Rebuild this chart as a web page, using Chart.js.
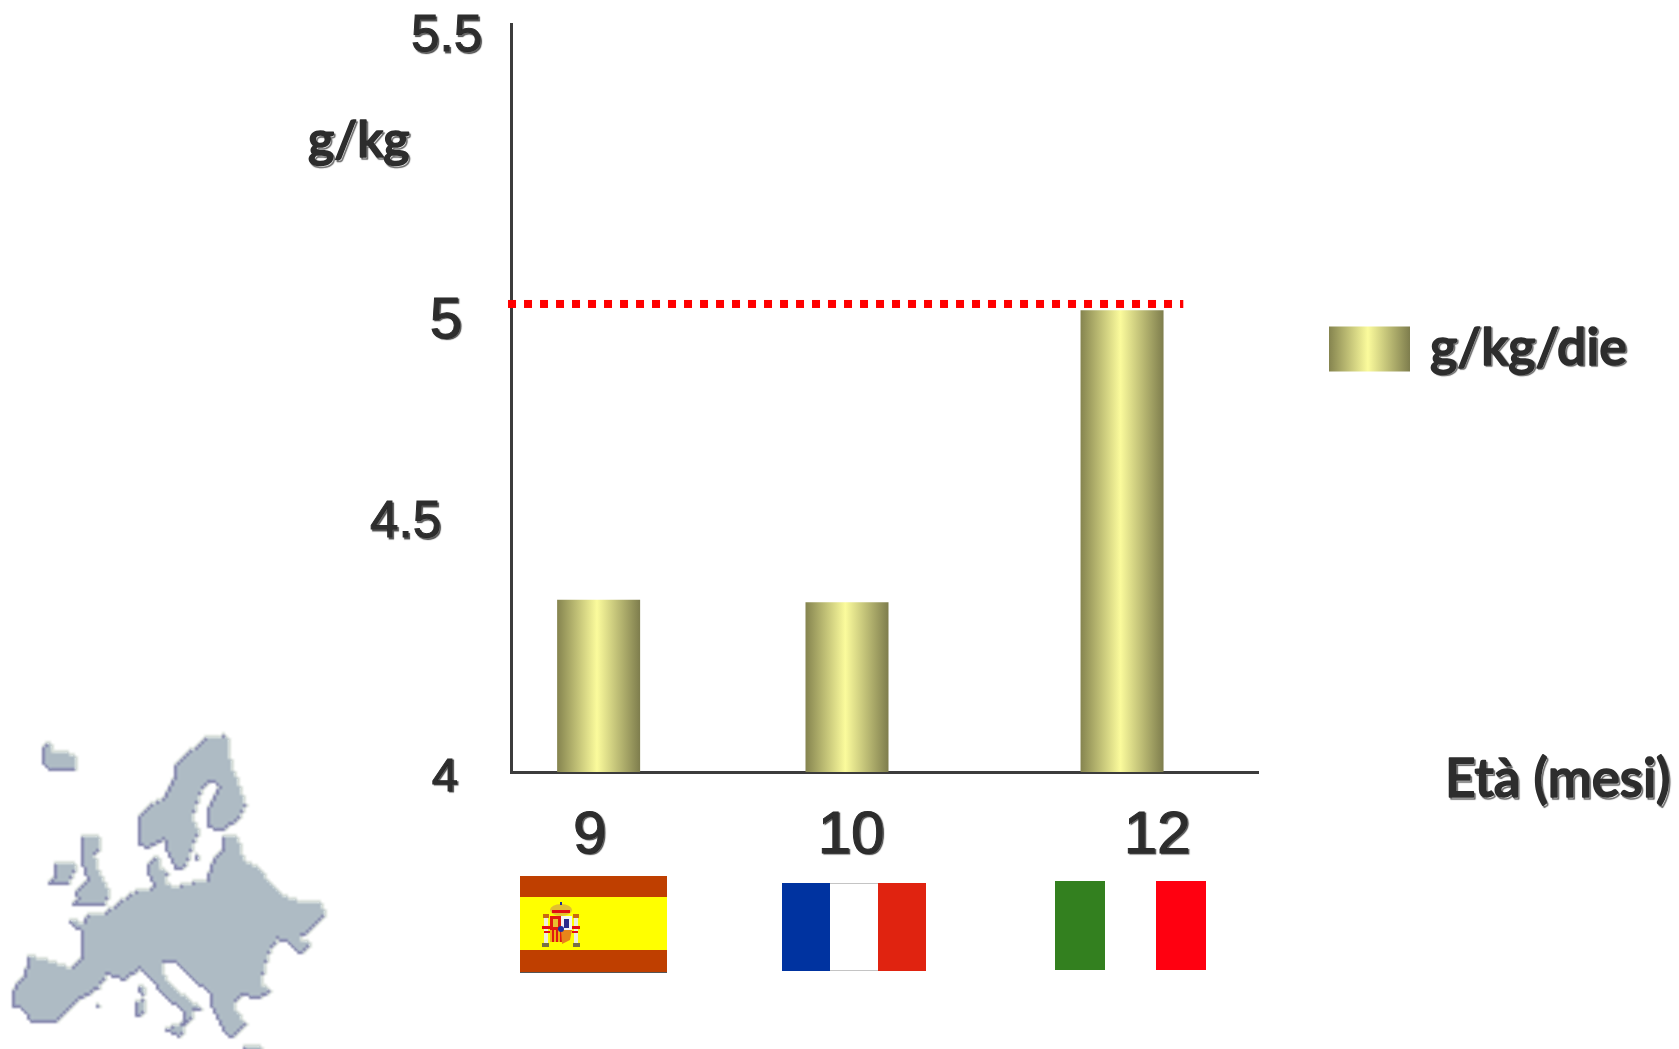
<!DOCTYPE html>
<html>
<head>
<meta charset="utf-8">
<title>g/kg/die per età</title>
<style>
  html, body { margin: 0; padding: 0; background: #fff; }
  canvas { display: block; }
</style>
<script src="https://cdn.jsdelivr.net/npm/chart.js@4/dist/chart.umd.js"></script>
</head>
<body>
<canvas id="chart" width="1679" height="1049"></canvas>
<script>
// Chart values
const ageMonths = ['9', '10', '12'];
const intakeValues = [4.33, 4.325, 4.985];
const referenceLevel = 5;
const seriesName = 'g/kg/die';
const yTickValues = [4, 4.5, 5, 5.5];

// Axis layout: the drawn axes are not evenly divided, so each scale has its own stops
const yAxisStops = [0, 0.349, 0.6257, 1];
const xAxisStops = [0.1173, 0.4498, 0.818];
const yTickShift = [[-45, 6], [-62, 12], [-41, 18], [-21, 13]];
const yTickSizes = [47, 51, 58, 51];
const xTickShift = [-9, 4, 35];

const COMIC_FONT = '"Comic Sans MS", Lato, "DejaVu Sans", sans-serif';
const NUM_FONT = '"Liberation Sans", Arial, sans-serif';
const INK = '#2d2d2d';

function setTextShadow(ctx) {
  ctx.shadowColor = 'rgba(30,30,30,0.7)';
  ctx.shadowOffsetX = 1.5;
  ctx.shadowOffsetY = 1.5;
  ctx.shadowBlur = 1;
}

function drawFreeTitle(scale, x, y) {
  const title = scale.options.title;
  const ctx = scale.ctx;
  ctx.save();
  setTextShadow(ctx);
  ctx.font = `${title.font.weight} ${title.font.size}px ${title.font.family}`;
  ctx.fillStyle = title.color;
  ctx.strokeStyle = title.color;
  ctx.lineWidth = 1.6;
  ctx.lineJoin = 'round';
  ctx.textBaseline = 'middle';
  ctx.textAlign = 'left';
  ctx.strokeText(title.text, x, y);
  ctx.shadowColor = 'transparent';
  ctx.fillText(title.text, x, y);
  ctx.restore();
}

function shiftLabelItems(items, shifts) {
  items.forEach((item, i) => {
    const s = shifts[i];
    const dx = Array.isArray(s) ? s[0] : s;
    const dy = Array.isArray(s) ? s[1] : 0;
    item.options.translation = [item.options.translation[0] + dx, item.options.translation[1] + dy];
  });
  return items;
}

const LinearBase = Chart.registry.getScale('linear');
const CategoryBase = Chart.registry.getScale('category');

// Value axis with hand-placed stops between its ticks
class SteppedValueScale extends LinearBase {
  static id = 'steppedValue';
  static defaults = LinearBase.defaults;
  buildTicks() {
    this.min = yTickValues[0];
    this.max = yTickValues[yTickValues.length - 1];
    return yTickValues.map(value => ({ value }));
  }
  getPixelForValue(value) {
    let i = 0;
    while (i < yTickValues.length - 2 && value > yTickValues[i + 1]) i++;
    const t = (value - yTickValues[i]) / (yTickValues[i + 1] - yTickValues[i]);
    const frac = yAxisStops[i] + t * (yAxisStops[i + 1] - yAxisStops[i]);
    return this.bottom - frac * (this.bottom - this.top);
  }
  _computeLabelItems(chartArea) {
    return shiftLabelItems(super._computeLabelItems(chartArea), yTickShift);
  }
  drawLabels(chartArea) {
    this.ctx.save();
    setTextShadow(this.ctx);
    super.drawLabels(chartArea);
    this.ctx.restore();
  }
  drawTitle() {
    drawFreeTitle(this, 308, 141);
  }
}

// Category axis whose slots sit at hand-placed stops
class SlottedCategoryScale extends CategoryBase {
  static id = 'slottedCategory';
  static defaults = CategoryBase.defaults;
  getPixelForValue(value) {
    const index = typeof value === 'number' ? value : this.parse(value);
    return this.left + this.width * xAxisStops[index];
  }
  _computeLabelItems(chartArea) {
    return shiftLabelItems(super._computeLabelItems(chartArea), xTickShift);
  }
  drawLabels(chartArea) {
    this.ctx.save();
    setTextShadow(this.ctx);
    super.drawLabels(chartArea);
    this.ctx.restore();
  }
  drawTitle() {
    drawFreeTitle(this, 1445, 780);
  }
}

Chart.register(SteppedValueScale, SlottedCategoryScale);

function olive(ctx, left, right) {
  const g = ctx.createLinearGradient(left, 0, right, 0);
  g.addColorStop(0, '#85844f');
  g.addColorStop(0.48, '#fbfb9c');
  g.addColorStop(1, '#7e7d4d');
  return g;
}

const BAR_WIDTH = 83;
const LEGEND_LEFT = 1329, LEGEND_TOP = 323, LEGEND_BOX_W = 81, LEGEND_BOX_H = 45;

// Flags under the age labels
function drawFlags(ctx) {
  // Spain
  ctx.fillStyle = '#bf3f00';
  ctx.fillRect(520, 876, 147, 97);
  ctx.fillStyle = '#ffff00';
  ctx.fillRect(520, 897, 147, 53);
  drawArms(ctx, 561, 930);
  ctx.fillStyle = '#555';
  ctx.fillRect(520, 972, 147, 1);
  // France
  ctx.fillStyle = '#c4c4c4';
  ctx.fillRect(830, 883, 48, 88);
  ctx.fillStyle = '#fff';
  ctx.fillRect(830, 884, 48, 86);
  ctx.fillStyle = '#0033a0';
  ctx.fillRect(782, 883, 48, 88);
  ctx.fillStyle = '#e02310';
  ctx.fillRect(878, 883, 48, 88);
  // Italy
  ctx.fillStyle = '#33801f';
  ctx.fillRect(1055, 881, 50, 89);
  ctx.fillStyle = '#ff0010';
  ctx.fillRect(1156, 881, 50, 89);
}

function drawArms(ctx, cx, cy) {
  // pillars
  ctx.fillStyle = '#eeeedd';
  ctx.fillRect(cx - 17, cy - 12, 4, 25);
  ctx.fillRect(cx + 13, cy - 12, 4, 25);
  ctx.fillStyle = '#777044';
  ctx.fillRect(cx - 19, cy + 13, 7, 4);
  ctx.fillRect(cx + 12, cy + 13, 7, 4);
  ctx.fillStyle = '#c96a10';
  ctx.fillRect(cx - 18, cy - 16, 6, 4);
  ctx.fillRect(cx + 12, cy - 16, 6, 4);
  // ribbons
  ctx.fillStyle = '#e31010';
  ctx.fillRect(cx - 19, cy - 4, 9, 3);
  ctx.fillRect(cx + 10, cy - 4, 9, 3);
  ctx.fillRect(cx - 17, cy + 1, 6, 2);
  ctx.fillRect(cx + 11, cy + 1, 6, 2);
  // crown
  ctx.fillStyle = '#e2c030';
  ctx.beginPath();
  ctx.ellipse(cx, cy - 20, 11, 6, 0, 0, Math.PI * 2);
  ctx.fill();
  ctx.fillStyle = '#e01010';
  ctx.fillRect(cx - 9, cy - 20, 18, 3);
  ctx.fillStyle = '#223399';
  ctx.fillRect(cx - 1, cy - 28, 2, 3);
  // shield quarters
  ctx.fillStyle = '#e01a10';
  ctx.fillRect(cx - 11, cy - 14, 11, 14);
  ctx.fillStyle = '#f4f4f4';
  ctx.fillRect(cx, cy - 14, 11, 14);
  ctx.fillStyle = '#2b2b8c';
  ctx.fillRect(cx + 3, cy - 11, 5, 9);
  ctx.fillStyle = '#e8c030';
  ctx.fillRect(cx - 8, cy - 11, 5, 8);
  const stripes = ['#f0b010', '#e01a10', '#f0b010', '#e01a10', '#f0b010', '#e01a10'];
  stripes.forEach((c, i) => {
    ctx.fillStyle = c;
    ctx.fillRect(cx - 11 + i * 2, cy, 2, 12);
  });
  ctx.fillStyle = '#e8851a';
  ctx.beginPath();
  ctx.moveTo(cx, cy);
  ctx.lineTo(cx + 11, cy);
  ctx.lineTo(cx + 9, cy + 10);
  ctx.lineTo(cx + 1, cy + 14);
  ctx.closePath();
  ctx.fill();
  ctx.fillStyle = '#2030a0';
  ctx.beginPath();
  ctx.arc(cx, cy - 1, 3, 0, Math.PI * 2);
  ctx.fill();
}

// Outline of Europe, in thirds of a pixel from the inset's corner
const europeShapes = [
  [[130,80],[148,72],[155,100],[220,105],[228,150],[160,158],[130,135]],
  [[525,135],[545,118],[560,100],[585,85],[610,60],[640,52],[680,50],[690,130],[715,200],[735,255],[715,300],[665,335],[625,325],[617,275],[640,235],[660,195],[625,185],[600,220],[575,290],[595,340],[575,380],[555,445],[525,450],[505,410],[490,360],[445,385],[415,375],[410,300],[440,265],[490,235],[520,180]],
  [[240,350],[295,352],[300,385],[280,410],[300,470],[328,520],[310,560],[250,560],[205,560],[235,540],[225,520],[260,480],[240,420]],
  [[165,435],[230,428],[215,475],[195,500],[140,495],[165,465]],
  [[445,430],[475,410],[480,450],[500,460],[495,490],[460,500],[445,470]],
  [[205,605],[250,610],[262,590],[300,590],[345,560],[395,520],[445,510],[500,490],[520,505],[575,490],[615,490],[635,430],[670,385],[665,355],[710,350],[730,425],[770,440],[810,490],[830,515],[880,545],[965,548],[970,590],[920,640],[895,660],[935,675],[895,705],[860,665],[830,660],[800,710],[780,790],[810,820],[775,835],[725,830],[695,855],[735,915],[700,950],[680,950],[630,855],[630,825],[570,770],[520,725],[485,725],[490,770],[550,830],[605,870],[570,870],[575,900],[550,925],[540,955],[490,930],[545,915],[555,880],[490,830],[445,770],[420,750],[370,780],[320,765],[290,810],[220,850],[165,910],[90,905],[70,870],[35,860],[40,810],[75,760],[85,710],[145,725],[215,750],[245,710],[245,640]],
  [[410,805],[435,800],[425,830]],
  [[405,850],[435,840],[430,885],[405,895]],
  [[280,858],[300,860],[298,868]],
  [[585,405],[595,405],[595,420],[585,420]],
  [[730,982],[790,985],[790,995],[730,995]]
];

// The inset map is rasterised coarsely, embossed, then enlarged for its stepped, soft edge
function drawEurope(ctx) {
  const cell = 3;
  const w = 114, h = 111;
  const mask = document.createElement('canvas');
  mask.width = w; mask.height = h;
  const m = mask.getContext('2d');
  m.fillStyle = '#000';
  m.beginPath();
  europeShapes.forEach(shape => {
    shape.forEach(([x, y], i) => {
      const px = x / 3 / cell, py = y / 3 / cell;
      if (i === 0) m.moveTo(px, py); else m.lineTo(px, py);
    });
    m.closePath();
  });
  m.fill();
  const a = m.getImageData(0, 0, w, h).data;
  const inside = (x, y) => x >= 0 && y >= 0 && x < w && y < h && a[(y * w + x) * 4 + 3] > 110;
  const tiles = document.createElement('canvas');
  tiles.width = w; tiles.height = h;
  const t = tiles.getContext('2d');
  for (let y = 0; y < h; y++) {
    for (let x = 0; x < w; x++) {
      let colour = null;
      if (inside(x, y)) colour = '#aebbc4';
      if (inside(x, y) && (!inside(x - 1, y) || !inside(x, y + 1))) colour = '#7f81a9';
      if (!inside(x, y) && (inside(x - 1, y) || inside(x, y + 1))) colour = '#d6ddd8';
      if (colour) { t.fillStyle = colour; t.fillRect(x, y, 1, 1); }
    }
  }
  ctx.save();
  ctx.imageSmoothingEnabled = true;
  ctx.imageSmoothingQuality = 'high';
  ctx.drawImage(tiles, 0, 720, w * cell, h * cell);
  ctx.restore();
}

const decorations = {
  id: 'decorations',
  afterLayout(chart) {
    const legend = chart.legend;
    const w = legend.width, h = legend.height;
    legend.left = LEGEND_LEFT;
    legend.right = LEGEND_LEFT + w;
    legend.top = LEGEND_TOP;
    legend.bottom = LEGEND_TOP + h;
    if (!legend._inked) {
      legend._inked = true;
      const drawLegend = legend.draw.bind(legend);
      legend.draw = function () {
        const ctx = chart.ctx;
        const fill = ctx.fillText;
        // legend lettering gets the same soft shadow as the axis text
        ctx.fillText = function (text, x, y) {
          const tx = x - 6, ty = y - 1;
          setTextShadow(ctx);
          ctx.strokeStyle = INK;
          ctx.lineWidth = 1.6;
          ctx.lineJoin = 'round';
          ctx.strokeText(text, tx, ty);
          ctx.shadowColor = 'transparent';
          fill.call(ctx, text, tx, ty);
        };
        drawLegend();
        delete ctx.fillText;
      };
    }
  },
  afterDraw(chart) {
    const ctx = chart.ctx;
    ctx.save();
    drawFlags(ctx);
    drawEurope(ctx);
    ctx.restore();
  }
};

new Chart(document.getElementById('chart'), {
  data: {
    labels: ageMonths,
    datasets: [
      {
        type: 'bar',
        label: seriesName,
        data: intakeValues,
        grouped: false,
        maxBarThickness: BAR_WIDTH,
        borderWidth: 0,
        backgroundColor(c) {
          const cx = c.dataIndex === undefined ? NaN : c.chart.scales.x.getPixelForValue(c.dataIndex);
          if (!Number.isFinite(cx)) return '#c0bf75';
          return olive(c.chart.ctx, cx - BAR_WIDTH / 2, cx + BAR_WIDTH / 2);
        }
      },
      {
        type: 'line',
        label: 'Riferimento',
        xAxisID: 'x2',
        yAxisID: 'y',
        data: [{ x: -0.004, y: referenceLevel }, { x: 0.9, y: referenceLevel }],
        borderColor: '#ff0000',
        borderWidth: 8,
        borderDash: [8, 8],
        borderCapStyle: 'butt',
        pointRadius: 0,
        clip: false,
        order: -1
      }
    ]
  },
  options: {
    responsive: false,
    animation: false,
    devicePixelRatio: 1,
    layout: { padding: { left: 0, top: 24, right: 421, bottom: 0 } },
    scales: {
      x: {
        type: 'slottedCategory',
        grid: { display: false },
        border: { display: true, color: '#3c3c3c', width: 3 },
        title: {
          display: true,
          text: 'Età (mesi)',
          color: INK,
          font: { family: COMIC_FONT, size: 53, weight: '600' }
        },
        ticks: {
          color: INK,
          padding: 20,
          autoSkip: false,
          maxRotation: 0,
          font: { family: NUM_FONT, size: 60, weight: '400' },
          textStrokeColor: INK,
          textStrokeWidth: 1
        },
        afterFit(scale) {
          scale.height = 277;
          scale.paddingLeft = scale.paddingRight = 0;
          scale.paddingTop = scale.paddingBottom = 0;
        }
      },
      x2: { type: 'linear', display: false, min: 0, max: 1 },
      y: {
        type: 'steppedValue',
        min: 4,
        max: 5.5,
        grid: { display: false },
        border: { display: true, color: '#3c3c3c', width: 3 },
        title: {
          display: true,
          text: 'g/kg',
          color: INK,
          font: { family: COMIC_FONT, size: 50, weight: '600' }
        },
        ticks: {
          color: INK,
          padding: 0,
          autoSkip: false,
          callback: v => String(v),
          font: c => ({ family: NUM_FONT, size: yTickSizes[c.index], weight: '400' }),
          textStrokeColor: INK,
          textStrokeWidth: 1
        },
        afterFit(scale) {
          scale.width = 511;
          scale.paddingLeft = scale.paddingRight = 0;
          scale.paddingTop = scale.paddingBottom = 0;
        }
      }
    },
    plugins: {
      tooltip: { enabled: false },
      legend: {
        position: 'chartArea',
        align: 'start',
        labels: {
          boxWidth: LEGEND_BOX_W,
          boxHeight: LEGEND_BOX_H,
          padding: 0,
          color: INK,
          font: { family: COMIC_FONT, size: 52, weight: '600' },
          filter: item => item.datasetIndex === 0,
          generateLabels(chart) {
            const items = Chart.defaults.plugins.legend.labels.generateLabels(chart);
            items.forEach(item => {
              item.fillStyle = olive(chart.ctx, LEGEND_LEFT, LEGEND_LEFT + LEGEND_BOX_W);
              item.lineWidth = 0;
            });
            return items;
          }
        }
      }
    }
  },
  plugins: [decorations]
});
</script>
</body>
</html>
